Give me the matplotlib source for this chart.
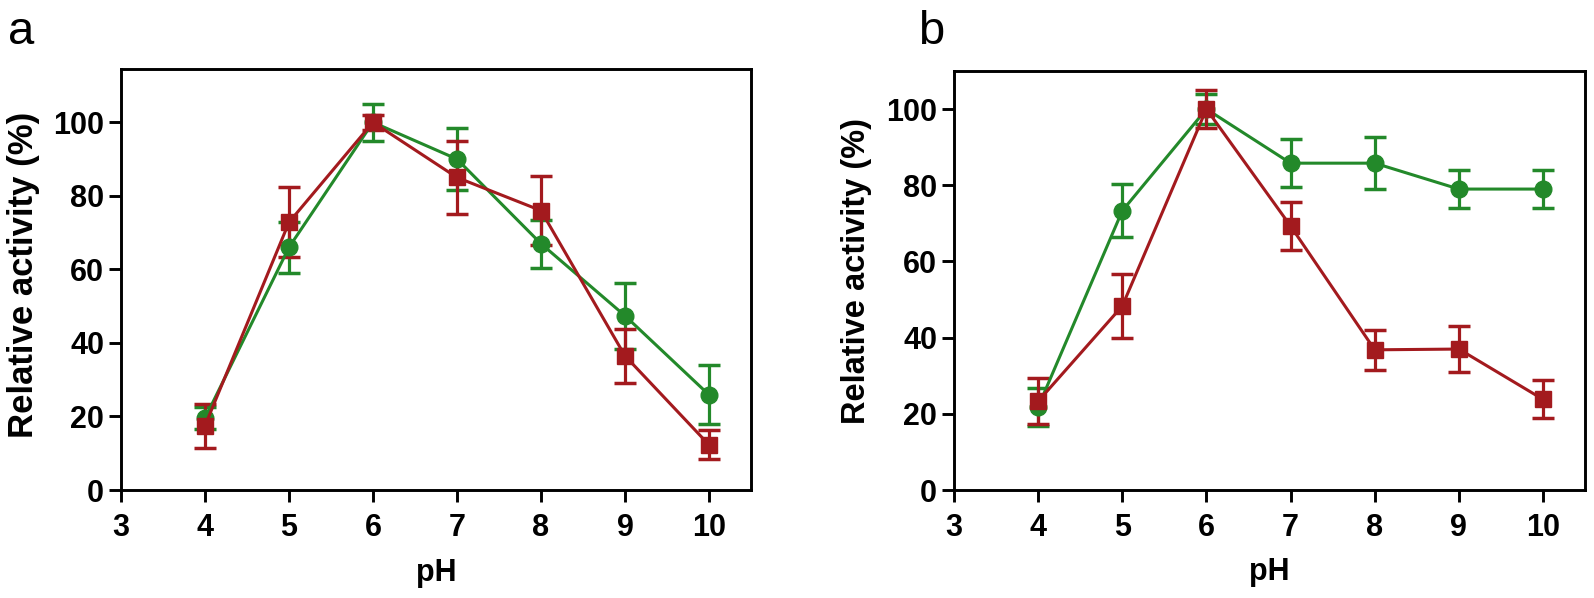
import matplotlib
matplotlib.use("Agg")
import matplotlib.pyplot as plt

ph = [4, 5, 6, 7, 8, 9, 10]

# panel a
a_green = [19.5, 66, 100, 90, 67, 47.4, 25.9]
a_green_err = [3, 7, 5, 8.5, 6.5, 9, 8]
a_red = [17.5, 72.8, 100, 85, 76, 36.5, 12.3]
a_red_err = [6, 9.5, 2, 10, 9.4, 7.3, 4]

# panel b
b_green = [21.8, 73.3, 100, 85.8, 85.8, 79, 79]
b_green_err = [5, 7, 4, 6.3, 6.8, 5, 5]
b_red = [23.3, 48.3, 100, 69.3, 36.8, 37, 23.8]
b_red_err = [6, 8.5, 5, 6.2, 5.2, 6, 5]

green = '#23892a'
red = '#a31a1e'

plt.rcParams['font.family'] = ['Liberation Sans', 'DejaVu Sans']

fig = plt.figure(figsize=(15.94, 5.98), dpi=100)
ax_a = fig.add_axes([0.0759, 0.1806, 0.3952, 0.704])
ax_b = fig.add_axes([0.5985, 0.1806, 0.3959, 0.7007])


def draw(ax, g, ge, r, re, ytop, ylab_size, ylab_y):
    ax.errorbar(ph, g, yerr=ge, color=green, marker='o', markersize=12,
                linewidth=2.2, elinewidth=2.3, capsize=8, capthick=2.5)
    ax.errorbar(ph, r, yerr=re, color=red, marker='s', markersize=11,
                linewidth=2.2, elinewidth=2.3, capsize=8, capthick=2.5)
    ax.set_xlim(3, 10.5)
    ax.set_ylim(0, ytop)
    ax.set_xticks(range(3, 11))
    ax.set_yticks(range(0, 101, 20))
    for s in ax.spines.values():
        s.set_linewidth(2.1)
    ax.tick_params(width=2.1, length=8.6, labelsize=22)
    ax.tick_params(axis='x', pad=8)
    ax.tick_params(axis='y', pad=3.6)
    ax.tick_params(top=False, right=False)
    for lab in ax.get_xticklabels() + ax.get_yticklabels():
        lab.set_fontweight('bold')
    ax.set_xlabel('pH', fontsize=22, fontweight='bold', va='baseline')
    ax.xaxis.set_label_coords(0.5, -0.215)
    ax.set_ylabel('Relative activity (%)', fontsize=ylab_size, fontweight='bold', va='center')
    ax.yaxis.set_label_coords(-0.154, ylab_y)


draw(ax_a, a_green, a_green_err, a_red, a_red_err, 114.5, 25, 0.51)
draw(ax_b, b_green, b_green_err, b_red, b_red_err, 110, 23.5, 0.523)

fig.text(0.005, 1 - 44 / 598, 'a', fontsize=34, va='baseline')
fig.text(0.576, 1 - 44 / 598, 'b', fontsize=34, va='baseline')

fig.savefig('out.png', dpi=100)
